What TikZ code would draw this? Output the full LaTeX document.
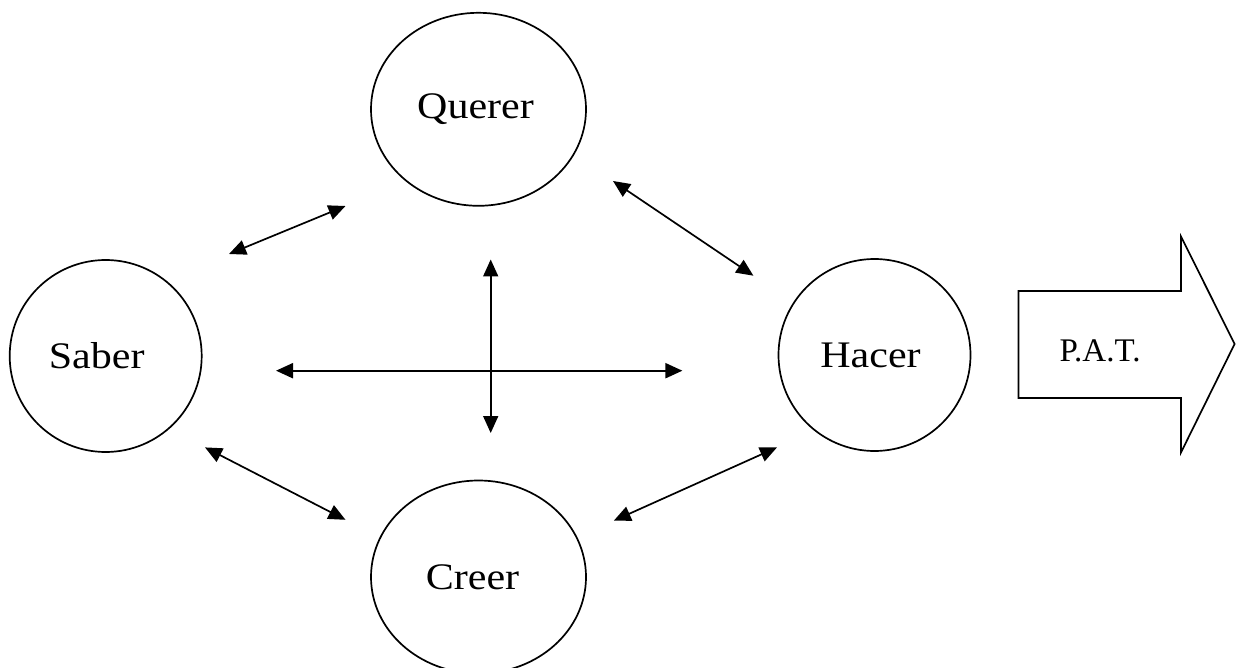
\documentclass[tikz,border=0pt]{standalone}
\usepackage{fontspec}
\setmainfont{Liberation Serif}
\newfontfamily\widefont{Liberation Serif}[FakeStretch=1.12]
\usetikzlibrary{shapes.geometric,arrows.meta}
\begin{document}
\begin{tikzpicture}[x=1pt,y=-1pt,
  bub/.style={ellipse,draw,line width=1.7pt,inner sep=0pt,font=\widefont\fontsize{37.5}{40}\selectfont},
  dbl/.style={{Triangle[length=17pt,width=15pt]}-{Triangle[length=17pt,width=15pt]},line width=1.7pt},
  patbox/.style={draw,line width=1.7pt,line join=miter}]
\useasboundingbox (0,0) rectangle (1237,668);
\node[bub,minimum width=215pt,minimum height=193pt] (Q) at (478.5,109.3) {Querer\kern6pt};
\node[bub,minimum width=192pt,minimum height=192pt] (S) at (105.7,356) {Saber\kern18pt};
\node[bub,minimum width=192pt,minimum height=192pt] (H) at (874.5,355) {Hacer\kern8pt};
\node[bub,minimum width=215pt,minimum height=193pt] (C) at (478.5,577) {Creer\kern12pt};
% P.A.T. arrow
\draw[patbox] (1018.5,291) -- (1181,291) -- (1181,236.5) -- (1234.6,344) -- (1181,452.5) -- (1181,398) -- (1018.5,398) -- cycle;
\node[font=\fontsize{33}{36}\selectfont] (P) at (1100,351) {P.A.T.};
% connector end points
\coordinate (a1) at (229,254);   \coordinate (a2) at (345.5,206);
\coordinate (b1) at (613,181);   \coordinate (b2) at (753.4,275.7);
\coordinate (h1) at (276,370.7); \coordinate (h2) at (682.4,370.7);
\coordinate (v1) at (490.7,259.5); \coordinate (v2) at (490.7,433);
\coordinate (c1) at (205,447.4); \coordinate (c2) at (345.5,519.8);
\coordinate (d1) at (613.8,520.7); \coordinate (d2) at (777,447.4);
\draw[dbl] (a1) -- (a2);
\draw[dbl] (b1) -- (b2);
\draw[dbl,line width=2.1pt] (h1) -- (h2);
\draw[dbl] (v1) -- (v2);
\draw[dbl] (c1) -- (c2);
\draw[dbl] (d1) -- (d2);
\end{tikzpicture}
\end{document}
